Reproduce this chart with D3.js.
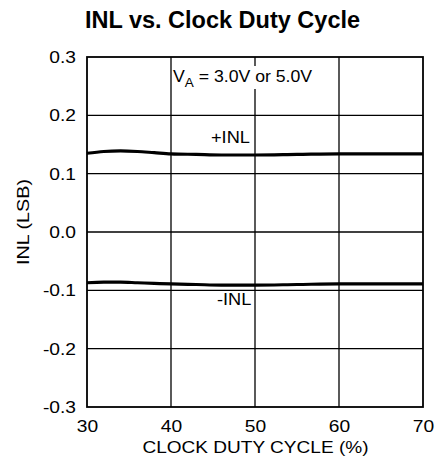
<!DOCTYPE html>
<html>
<head>
<meta charset="utf-8">
<script src="https://cdn.jsdelivr.net/npm/d3@7"></script>
<style>
html,body{margin:0;padding:0;background:#fff;}
svg{display:block;font-family:"Liberation Sans",Arial,Helvetica,sans-serif;}
</style>
</head>
<body>
<svg id="chart" width="436" height="472"></svg>
<script>
const xTicks = [30, 40, 50, 60, 70];
const yTicks = [-0.3, -0.2, -0.1, 0.0, 0.1, 0.2, 0.3];
const dutyCycle = [30, 32, 34, 36, 38, 40, 43, 46, 50, 55, 60, 65, 70];
const inlPos = [0.135, 0.138, 0.139, 0.138, 0.136, 0.134, 0.133, 0.132, 0.132, 0.133, 0.134, 0.134, 0.134];
const inlNeg = [-0.087, -0.086, -0.086, -0.087, -0.088, -0.089, -0.090, -0.091, -0.091, -0.090, -0.089, -0.089, -0.089];

const svg = d3.select("#chart");
const m = {left: 87, right: 13, top: 57, bottom: 65};
const W = 436, H = 472;
const x = d3.scaleLinear().domain([30, 70]).range([m.left, W - m.right]);
const y = d3.scaleLinear().domain([-0.3, 0.3]).range([H - m.bottom, m.top]);

function stretch(sel, ratio) {
  sel.each(function() {
    const L = this.getComputedTextLength();
    d3.select(this).attr("textLength", L * ratio).attr("lengthAdjust", "spacingAndGlyphs");
  });
}

// title
svg.append("text").attr("x", 222.5).attr("y", 28).attr("text-anchor", "middle")
  .attr("font-size", 23.5).attr("font-weight", "bold").text("INL vs. Clock Duty Cycle");

// grid
const g = svg.append("g");
g.selectAll("line.v").data(xTicks.slice(1, -1)).enter().append("line")
  .attr("x1", d => x(d)).attr("x2", d => x(d)).attr("y1", y(0.3)).attr("y2", y(-0.3))
  .attr("stroke", "#000").attr("stroke-width", 1.3);
g.selectAll("line.h").data(yTicks.slice(1, -1)).enter().append("line")
  .attr("x1", x(30)).attr("x2", x(70)).attr("y1", d => y(d)).attr("y2", d => y(d))
  .attr("stroke", "#000").attr("stroke-width", 1.3);

// axes
const xAxis = svg.append("g").attr("transform", `translate(0,${y(-0.3)})`)
  .call(d3.axisBottom(x).tickValues(xTicks).tickSize(0).tickPadding(13).tickFormat(d3.format("d")));
const yAxis = svg.append("g").attr("transform", `translate(${x(30)},0)`)
  .call(d3.axisLeft(y).tickValues(yTicks).tickSize(0).tickPadding(11)
    .tickFormat(d => d3.format(".1f")(d).replace("\u2212", "-")));
[xAxis, yAxis].forEach(a => {
  a.select(".domain").remove();
  a.selectAll("text").attr("font-size", 17).attr("fill", "#000")
    .attr("font-family", '"Liberation Sans",Arial,sans-serif');
  stretch(a.selectAll("text"), 1.13);
});

// frame
svg.append("rect").attr("x", x(30)).attr("y", y(0.3))
  .attr("width", x(70) - x(30)).attr("height", y(-0.3) - y(0.3))
  .attr("fill", "none").attr("stroke", "#000").attr("stroke-width", 1.8);

// curves
const line = d3.line().x(d => x(d[0])).y(d => y(d[1])).curve(d3.curveMonotoneX);
[inlPos, inlNeg].forEach(s => {
  svg.append("path").datum(dutyCycle.map((d, i) => [d, s[i]]))
    .attr("d", line).attr("fill", "none").attr("stroke", "#000").attr("stroke-width", 3.2);
});

// annotation with white background
const ann = svg.append("g");
ann.append("rect").attr("x", 173).attr("y", 66).attr("width", 154).attr("height", 23).attr("fill", "#fff");
const t = ann.append("text").attr("transform", "translate(173,82) scale(1.04,1)").attr("font-size", 17);
t.append("tspan").text("V");
t.append("tspan").attr("font-size", 13).attr("dy", 5).text("A");
t.append("tspan").attr("dy", -5).text(" = 3.0V or 5.0V");

const pl = svg.append("text").attr("x", 211).attr("y", 143).attr("font-size", 17).text("+INL");
stretch(pl, 1.07);
const nl = svg.append("text").attr("x", 217).attr("y", 305).attr("font-size", 17).text("-INL");
stretch(nl, 1.07);

// axis titles
const xt = svg.append("text").attr("x", 255.5).attr("y", 453).attr("text-anchor", "middle")
  .attr("font-size", 17).text("CLOCK DUTY CYCLE (%)");
stretch(xt, 1.12);
const yt = svg.append("text").attr("transform", "translate(29,222) rotate(-90)").attr("text-anchor", "middle")
  .attr("font-size", 17).attr("textLength", 86).attr("lengthAdjust", "spacingAndGlyphs").text("INL (LSB)");
</script>
</body>
</html>
